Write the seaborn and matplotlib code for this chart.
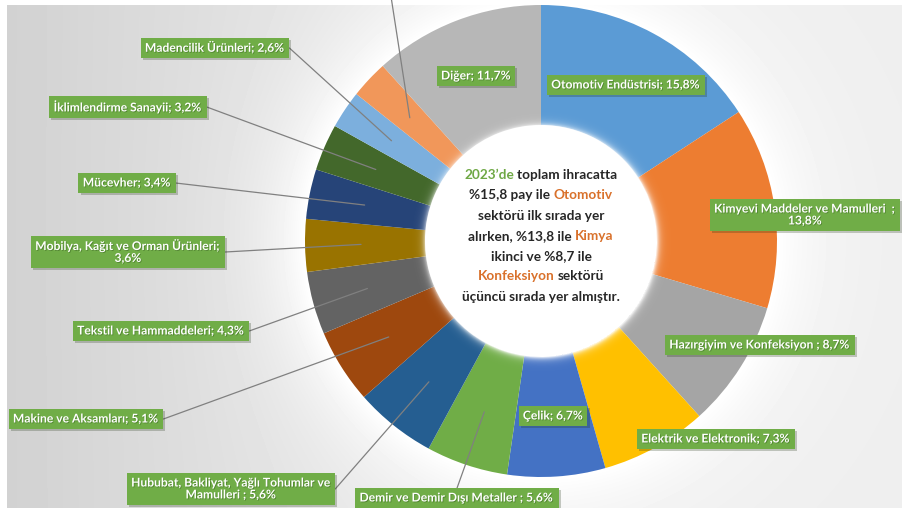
import numpy as np
import matplotlib
matplotlib.use("Agg")
import matplotlib.pyplot as plt
import matplotlib.patheffects as pe
import seaborn as sns

# --- data -------------------------------------------------------------
sectors = [
    "Otomotiv Endüstrisi",
    "Kimyevi Maddeler ve Mamulleri",
    "Hazırgiyim ve Konfeksiyon",
    "Elektrik ve Elektronik",
    "Çelik",
    "Demir ve Demir Dışı Metaller",
    "Hububat, Bakliyat, Yağlı Tohumlar ve\nMamulleri",
    "Makine ve Aksamları",
    "Tekstil ve Hammaddeleri",
    "Mobilya, Kağıt ve Orman Ürünleri",
    "Mücevher",
    "İklimlendirme Sanayii",
    "Madencilik Ürünleri",
    None,
    "Diğer",
]
shares = [15.8, 13.8, 8.7, 7.3, 6.7, 5.6, 5.6, 5.1, 4.3, 3.6, 3.4, 3.2, 2.6, 2.6, 11.7]
separators = ["; ", "  ;\n", " ; ", "; ", "; ", " ; ", " ; ", "; ", "; ", ";\n", "; ", "; ", "; ", "; ", "; "]

# --- style ------------------------------------------------------------
sns.set_theme(style="white")
FONT = ["Lato", "DejaVu Sans"]
plt.rcParams["font.family"] = FONT

palette = sns.color_palette([
    "#5B9BD5", "#ED7D31", "#A5A5A5", "#FFC000", "#4472C4", "#70AD47",
    "#255E91", "#9E480E", "#636363", "#997300", "#264478", "#43682B",
    "#7CAFDD", "#F1975A", "#B7B7B7",
])
LABEL_GREEN = "#70AD47"
TXT_DARK = "#262626"
TXT_ORANGE = "#D9712B"
TXT_GREEN = "#6FA845"

W, H = 903, 508
fig = plt.figure(figsize=(W / 100, H / 100), dpi=100)
ax = fig.add_axes([0, 0, 1, 1])

# ring geometry in pixel units (y measured from the top edge)
cx, cy, R, r_in = 541, 241, 236, 116

# soft grey backdrop that brightens around the ring
yy, xx = np.mgrid[0:H, 0:W]
dist = np.hypot(xx - cx, yy - cy)
base = 0.935 - 0.115 * np.clip((cx - xx) / cx, 0, 1) ** 1.2
glow = np.exp(-np.clip(dist - R, 0, None) / 45.0)
shade = base + (1 - base) * glow
shade[:5, :] = 1.0
shade[:, :7] = 1.0
ax.imshow(shade, cmap="gray", vmin=0, vmax=1, extent=[0, W, 0, H],
          origin="upper", interpolation="bilinear", zorder=0)

wedges, _ = ax.pie(
    shares, colors=palette, startangle=90, counterclock=False,
    radius=R, center=(cx, H - cy),
    wedgeprops=dict(width=R - r_in, linewidth=0),
)
for w in wedges:
    w.set_zorder(2)

# feathered inner rim of the hole: white fading outward over a few pixels
rim = np.zeros((H, W, 4))
rim[..., :3] = 1.0
rim[..., 3] = np.where(dist >= r_in - 1, 0.75 * np.exp(-np.clip(dist - r_in, 0, None) / 3.0), 0.0)
ax.imshow(rim, extent=[0, W, 0, H], origin="upper", interpolation="bilinear", zorder=2.5)

ax.set_xlim(0, W)
ax.set_ylim(0, H)
ax.axis("off")

renderer = fig.canvas.get_renderer()


def px(x, y):
    return x, H - y


# --- sector labels ------------------------------------------------------
label_pos = [
    (626, 85), (805, 215), (760, 345), (716, 439), (553, 416), (457, 498),
    (231, 489), (86, 419), (161, 331), (128, 252), (127, 183), (128, 107),
    (215, 48), None, (476, 76),
]
# which side of the label box the leader line attaches to
leader_side = [None, None, None, None, None, "top", "right", "right", "right",
               "right", "right", "right", "right", "up", None]

cum = np.cumsum([0] + shares)
total = cum[-1]
r_anchor = 180

for i, (name, val) in enumerate(zip(sectors, shares)):
    mid = (cum[i] + cum[i + 1]) / 2 / total * 360.0
    ax_x = cx + r_anchor * np.sin(np.radians(mid))
    ax_y = cy - r_anchor * np.cos(np.radians(mid))
    side = leader_side[i]
    if name is None:
        # label box sits beyond the top edge; only its leader is visible
        ax.plot(*zip(px(ax_x, ax_y), px(390, -10)), color="#808080", lw=0.9, zorder=3)
        continue
    text = f"{name}{separators[i]}{val:.1f}%".replace(".", ",")
    lx, ly = label_pos[i]
    t = ax.text(*px(lx, ly), text, ha="center", va="center", ma="center",
                fontsize=8.7, fontweight="bold", color="white", zorder=5,
                linespacing=1.1,
                bbox=dict(boxstyle="square,pad=0.36", fc=LABEL_GREEN, ec="none"))
    t.set_path_effects([pe.withSimplePatchShadow(offset=(0.6, -0.6), shadow_rgbFace="#3d6b22", alpha=0.6)])
    t.get_bbox_patch().set_path_effects(
        [pe.SimplePatchShadow(offset=(1.5, -1.5), alpha=0.25), pe.Normal()])
    if side is not None:
        fig.canvas.draw()
        bb = t.get_bbox_patch().get_window_extent(renderer)
        if side == "right":
            end = (bb.x1, (bb.y0 + bb.y1) / 2)
        else:
            end = ((bb.x0 + bb.x1) / 2, bb.y1)
        ax.plot([px(ax_x, ax_y)[0], end[0]], [px(ax_x, ax_y)[1], end[1]],
                color="#808080", lw=0.9, zorder=3)

# --- centre note --------------------------------------------------------
note_lines = [
    [("2023’de", TXT_GREEN), (" toplam ihracatta", TXT_DARK)],
    [("%15,8 pay ile ", TXT_DARK), ("Otomotiv", TXT_ORANGE)],
    [("sektörü ilk sırada yer", TXT_DARK)],
    [("alırken, %13,8 ile ", TXT_DARK), ("Kimya", TXT_ORANGE)],
    [("ikinci ve %8,7 ile", TXT_DARK)],
    [("Konfeksiyon", TXT_ORANGE), (" sektörü", TXT_DARK)],
    [("üçüncü sırada yer almıştır.", TXT_DARK)],
]
NOTE_SIZE = 9.8
note_y0, note_dy = 175, 20.3


def text_width(s):
    t = ax.text(0, 0, s, fontsize=NOTE_SIZE, fontweight="bold")
    w = t.get_window_extent(renderer).width
    t.remove()
    return w


ref_w = text_width("l")
for k, parts in enumerate(note_lines):
    full = "".join(p for p, _ in parts)
    line_w = text_width(full)
    left = cx - line_w / 2
    y = note_y0 + k * note_dy
    prefix = ""
    for s, c in parts:
        stripped = s.lstrip(" ")
        lead = prefix + s[: len(s) - len(stripped)]
        off = text_width(lead + "l") - ref_w if lead else 0.0
        ax.text(*px(left + off, y), stripped, ha="left", va="center",
                fontsize=NOTE_SIZE, fontweight="bold", color=c, zorder=6)
        prefix += s

fig.savefig("out.png", dpi=100)
